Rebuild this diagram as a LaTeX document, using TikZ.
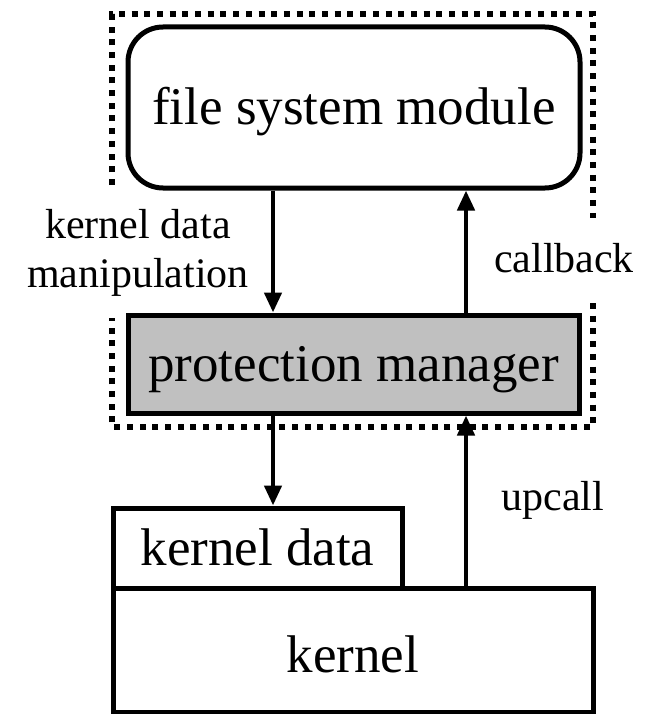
\documentclass[tikz,border=0pt]{standalone}
\usepackage{fontspec}
\setmainfont{Liberation Serif}
\usetikzlibrary{arrows.meta}
\begin{document}
\begin{tikzpicture}[x=1pt,y=-1pt,
  box/.style={draw,line width=5pt,inner sep=0pt,text height=37pt,text depth=0pt,
    font=\fontsize{53}{60}\selectfont,anchor=center},
  lbl/.style={font=\fontsize{42}{49}\selectfont,align=center,inner sep=0pt},
  conn/.style={line width=4.5pt,-{Triangle[length=20pt,width=17pt]}},
  grp/.style={line width=5.5pt,dash pattern=on 6pt off 6.7pt}]
\useasboundingbox (0,0) rectangle (650,714);
% group outlines
\draw[grp] (112,185) -- (112,14) -- (593,14) -- (593,218);
\draw[grp] (593,303) -- (593,427) -- (112,427) -- (112,318);
% boxes
\node[box,rounded corners=35pt,minimum width=452pt,minimum height=161pt,text height=35pt] (fsm) at (354,107.5) {file system module};
\node[box,fill={rgb,255:red,192;green,192;blue,192},minimum width=451pt,minimum height=98pt,text height=35pt] (pm) at (353.5,364) {protection manager};
\node[box,minimum width=289pt,minimum height=80pt,text height=34pt] (kd) at (257.5,548) {kernel data};
\node[box,minimum width=480pt,minimum height=124pt,text height=44pt] (kern) at (353,650) {kernel};
% connector columns
\coordinate (cl) at (273,0);
\coordinate (cr) at (466,0);
\draw[conn] (fsm.south -| cl) -- (pm.north -| cl);
\draw[conn] (pm.north -| cr) -- (fsm.south -| cr);
\draw[conn] (pm.south -| cl) -- (kd.north -| cl);
\draw[conn] (kern.north -| cr) -- (pm.south -| cr);
% labels
\node[lbl] (lkdm) at (138,253) {kernel data\\manipulation};
\node[lbl,anchor=base] (lcb) at (564,272) {callback};
\node[lbl,anchor=base] (luc) at (553,510) {upcall};
\end{tikzpicture}
\end{document}
